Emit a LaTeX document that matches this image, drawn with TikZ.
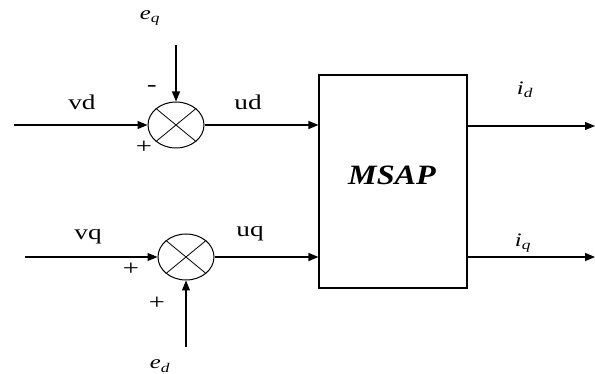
\documentclass[tikz,border=0pt]{standalone}
\usepackage{fontspec}
\setmainfont{Liberation Serif}
\usetikzlibrary{arrows.meta,shapes.geometric}
\begin{document}
\begin{tikzpicture}[x=1pt,y=-1pt,
  sig/.style={line width=1.1pt,-{Triangle[length=10pt,width=8pt]}},
  summer/.style={draw,line width=1pt,ellipse,minimum width=56pt,minimum height=46pt,inner sep=0pt},
  lbl/.style={font=\fontsize{21}{21}\selectfont,xscale=1.3,inner sep=0pt},
  mlbl/.style={font=\fontsize{19}{19}\selectfont\itshape,xscale=1.3,inner sep=0pt},
  sgn/.style={font=\fontsize{22}{22}\selectfont,xscale=1.3,inner sep=0pt}]
\useasboundingbox (0,0) rectangle (595,374);
% summers
\node[summer] (s1) at (176,125) {};
\node[summer] (s2) at (186,257) {};
\foreach \s in {s1,s2}{
  \draw[line width=0.8pt] (\s.north east) -- (\s.south west);
  \draw[line width=0.8pt] (\s.north west) -- (\s.south east);
}
% MSAP block
\node[draw,line width=1.1pt,minimum width=148pt,minimum height=213pt,inner sep=0pt] (m) at (393,181.5) {};
\node[font=\fontsize{28}{28}\selectfont\bfseries\itshape,xscale=1.15,inner sep=0pt] (mt) at (392,175) {MSAP};
% coordinates
\coordinate (vdin) at (14,125);
\coordinate (vqin) at (25,257);
\coordinate (eqin) at (176,45);
\coordinate (edin) at (186,347);
\coordinate (idout) at (595,126);
\coordinate (iqout) at (595,257);
% connectors
\draw[sig] (vdin) -- (s1.west);
\draw[sig] (eqin) -- (s1.north);
\draw[sig] (s1.east) -- (m.west |- s1.east);
\draw[sig] (vqin) -- (s2.west);
\draw[sig] (edin) -- (s2.south);
\draw[sig] (s2.east) -- (m.west |- s2.east);
\draw[sig] (m.east |- idout) -- (idout);
\draw[sig] (m.east |- iqout) -- (iqout);
% labels
\node[lbl] (vd) at (82,102) {vd};
\node[lbl] (ud) at (248,102) {ud};
\node[lbl] (vq) at (88,237) {vq};
\node[lbl] (uq) at (250,234) {uq};
\node[mlbl] (eq) at (150,18) {e\textsubscript{q}};
\node[mlbl] (ed) at (160,366) {e\textsubscript{d}};
\node[mlbl] (id) at (525,90) {i\textsubscript{d}};
\node[mlbl] (iq) at (523,243) {i\textsubscript{q}};
\node[sgn] (m1) at (152,88) {-};
\node[sgn] (p1) at (144,147) {+};
\node[sgn] (p2) at (131,269) {+};
\node[sgn] (p3) at (157,303) {+};
\end{tikzpicture}
\end{document}
